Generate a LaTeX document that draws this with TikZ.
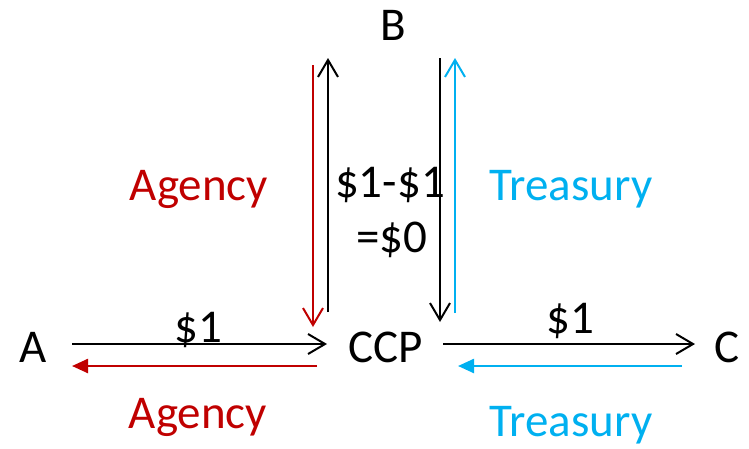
\documentclass[tikz,border=0pt]{standalone}
\usepackage{fontspec}
\setmainfont{Carlito}
\usetikzlibrary{arrows.meta}
\definecolor{agred}{HTML}{C00000}
\definecolor{trblue}{HTML}{00B0F0}
\tikzset{
  lbl/.style={inner sep=0pt, anchor=base, font=\fontsize{47}{54}\selectfont},
  openarr/.style={line width=2pt, -{Straight Barb[length=17pt,width=20pt,line width=2pt]}},
  fillarr/.style={line width=2.4pt, -{Triangle[length=16pt,width=14pt]}},
}
\begin{document}
\begin{tikzpicture}[x=1pt,y=-1pt]
\useasboundingbox (0,0) rectangle (749,448);
% main labels
\node[lbl] (A) at (33,362) {A};
\node[lbl] (CCP) at (386,362) {CCP};
\node[lbl] (C) at (727,362) {C};
\node[lbl] (B) at (393,40) {B};
% value labels
\node[lbl] (v1) at (198,342) {\$1};
\node[lbl] (v2) at (570,333) {\$1};
\node[lbl] (v3) at (390,197) {\$1-\$1};
\node[lbl] (v4) at (392,252) {=\$0};
\node[lbl, text=agred] (ag1) at (199,200) {Agency};
\node[lbl, text=agred] (ag2) at (198,428) {Agency};
\node[lbl, text=trblue] (tr1) at (571,200) {Treasury};
\node[lbl, text=trblue] (tr2) at (571,436) {Treasury};
% arrow endpoints
\coordinate (a1s) at (72,344);  \coordinate (a1e) at (327,344);
\coordinate (a2s) at (317,366); \coordinate (a2e) at (72,366);
\coordinate (c1s) at (443,344); \coordinate (c1e) at (695,344);
\coordinate (c2s) at (682,366); \coordinate (c2e) at (458,366);
\coordinate (r1s) at (313,65);  \coordinate (r1e) at (313,327);
\coordinate (k1s) at (328,312); \coordinate (k1e) at (328,58);
\coordinate (k2s) at (440,58);  \coordinate (k2e) at (440,322);
\coordinate (b1s) at (455,313); \coordinate (b1e) at (455,58);
% arrows
\draw[openarr] (a1s) -- (a1e);
\draw[fillarr, agred] (a2s) -- (a2e);
\draw[openarr] (c1s) -- (c1e);
\draw[fillarr, trblue] (c2s) -- (c2e);
\draw[openarr, agred] (r1s) -- (r1e);
\draw[openarr] (k1s) -- (k1e);
\draw[openarr] (k2s) -- (k2e);
\draw[openarr, trblue] (b1s) -- (b1e);
\end{tikzpicture}
\end{document}
